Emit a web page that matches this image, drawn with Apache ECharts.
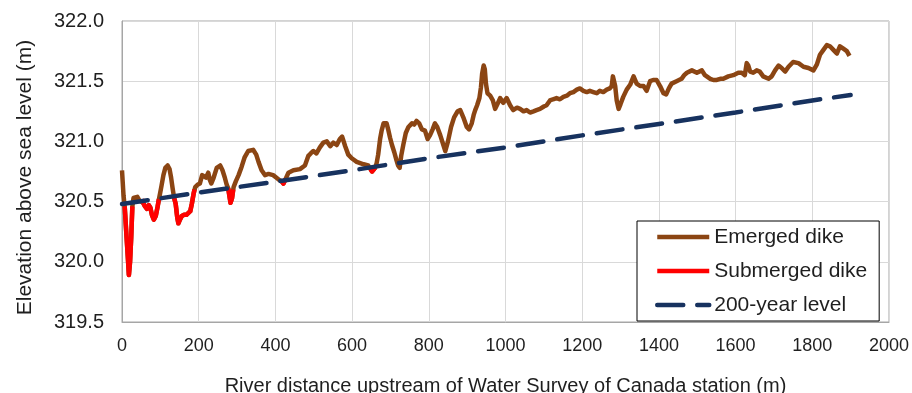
<!DOCTYPE html>
<html>
<head>
<meta charset="utf-8">
<script src="https://cdn.jsdelivr.net/npm/echarts@6/dist/echarts.min.js"></script>
<style>
html,body{margin:0;padding:0;background:#fff;}
#chart{width:912px;height:393px;}
</style>
</head>
<body>
<div id="chart"></div>
<script>
// ---- data ----
var xTicks = [0, 200, 400, 600, 800, 1000, 1200, 1400, 1600, 1800, 2000];
var yTicks = [319.5, 320.0, 320.5, 321.0, 321.5, 322.0];

var profileDistance = [0,4,7,12,15,18,21,24,27,30,35,40,45,50,55,60,65,70,74,78,83,88,93,97,103,108,113,119,124,128,132,136,140,144,147,151,156,162,168,173,178,182,187,191,197,203,209,214,219,225,229,233,238,247,256,262,268,273,277,280,283,287,291,297,304,312,320,329,342,350,356,364,373,382,394,402,410,416,421,427,434,447,464,477,486,492,499,507,516,525,534,543,551,560,568,574,582,590,599,612,621,630,642,648,652,656,660,664,668,673,677,682,686,690,694,699,704,710,716,720,724,728,734,740,747,756,762,768,775,782,790,797,803,810,816,822,830,838,843,850,858,866,875,882,890,899,905,912,917,921,926,932,936,939,943,946,949,953,960,967,973,979,986,994,1003,1012,1020,1030,1038,1047,1055,1064,1073,1081,1090,1100,1107,1116,1124,1133,1142,1151,1160,1168,1177,1186,1194,1203,1212,1220,1229,1238,1246,1255,1264,1272,1277,1280,1283,1286,1290,1295,1300,1307,1316,1325,1334,1342,1351,1360,1368,1377,1385,1394,1403,1412,1419,1426,1433,1446,1459,1466,1473,1486,1499,1512,1520,1534,1542,1551,1560,1568,1581,1594,1607,1616,1624,1629,1633,1638,1646,1655,1663,1672,1686,1694,1703,1712,1720,1729,1738,1750,1764,1777,1790,1803,1812,1820,1829,1838,1846,1855,1864,1872,1881,1890,1897];
var profileElevation = [320.76,320.55,320.46,320.20,320.05,319.89,320.00,320.20,320.46,320.53,320.52,320.54,320.51,320.52,320.49,320.46,320.44,320.47,320.45,320.39,320.35,320.38,320.46,320.53,320.63,320.72,320.78,320.80,320.77,320.70,320.61,320.53,320.48,320.37,320.32,320.35,320.38,320.39,320.39,320.39,320.42,320.48,320.57,320.62,320.64,320.65,320.72,320.73,320.70,320.74,320.68,320.65,320.69,320.78,320.80,320.76,320.70,320.64,320.61,320.55,320.49,320.53,320.62,320.67,320.72,320.79,320.87,320.92,320.93,320.89,320.83,320.76,320.72,320.73,320.72,320.70,320.68,320.67,320.65,320.69,320.74,320.76,320.77,320.80,320.88,320.90,320.92,320.90,320.95,320.99,321.00,320.96,320.99,320.97,321.02,321.04,320.96,320.89,320.86,320.83,320.82,320.81,320.80,320.77,320.75,320.74,320.78,320.82,320.89,321.02,321.09,321.15,321.16,321.15,321.10,321.03,320.97,320.91,320.84,320.80,320.78,320.88,320.98,321.07,321.12,321.15,321.14,321.17,321.15,321.10,321.09,321.02,321.05,321.10,321.15,321.12,321.05,320.97,320.92,321.00,321.12,321.20,321.25,321.26,321.20,321.12,321.10,321.15,321.22,321.26,321.30,321.36,321.45,321.56,321.63,321.60,321.48,321.40,321.38,321.34,321.27,321.31,321.36,321.32,321.36,321.30,321.26,321.28,321.27,321.25,321.26,321.24,321.25,321.26,321.27,321.29,321.30,321.34,321.35,321.36,321.35,321.37,321.38,321.40,321.41,321.43,321.44,321.42,321.41,321.42,321.41,321.40,321.42,321.41,321.43,321.44,321.46,321.54,321.55,321.46,321.34,321.27,321.31,321.37,321.43,321.47,321.54,321.48,321.46,321.46,321.42,321.50,321.51,321.51,321.46,321.40,321.39,321.44,321.48,321.50,321.52,321.55,321.57,321.59,321.57,321.59,321.55,321.52,321.51,321.51,321.52,321.52,321.54,321.55,321.57,321.57,321.55,321.65,321.63,321.58,321.57,321.59,321.58,321.54,321.52,321.54,321.59,321.63,321.61,321.58,321.62,321.66,321.65,321.62,321.61,321.59,321.64,321.72,321.76,321.80,321.79,321.76,321.73,321.79,321.77,321.75,321.71];

// submerged stretches ('-' separates stretches)
var submergedDistance = [7,12,15,18,21,24,27,'-',52,55,60,65,70,74,78,83,88,93,96,'-',136,140,144,147,151,156,162,168,173,178,182,187,189,'-',277,280,283,287,290,'-',416,421,427,'-',648,652,656,660];
var submergedElevation = [320.46,320.20,320.05,319.89,320.00,320.20,320.46,'-',320.52,320.49,320.46,320.44,320.47,320.45,320.39,320.35,320.38,320.46,320.52,'-',320.53,320.48,320.37,320.32,320.35,320.38,320.39,320.39,320.39,320.42,320.48,320.57,320.60,'-',320.61,320.55,320.49,320.53,320.60,'-',320.67,320.65,320.69,'-',320.77,320.75,320.74,320.78];

var levelDistance = [0,200,400,600,800,1000,1200,1400,1600,1800,1900];
var levelElevation = [320.48,320.575,320.665,320.76,320.86,320.95,321.05,321.145,321.24,321.34,321.385];

function zip(a, b) { return a.map(function (v, i) { return [v, b[i]]; }); }

var textColor = '#1f1f1f';
var chart = echarts.init(document.getElementById('chart'));
chart.setOption({
  animation: false,
  backgroundColor: '#fff',
  grid: { left: 122, right: 23, top: 21, bottom: 71, show: true, borderColor: '#a6a6a6', borderWidth: 1,
    containLabel: false, outerBoundsMode: 'none' },
  xAxis: {
    type: 'value', min: xTicks[0], max: xTicks[xTicks.length - 1], interval: 200,
    name: 'River distance upstream of Water Survey of Canada station (m)',
    nameLocation: 'middle', nameGap: 54,
    nameTextStyle: { fontFamily: 'Liberation Sans', fontSize: 20, color: textColor },
    axisLine: { show: true, lineStyle: { color: '#a6a6a6' } },
    axisTick: { show: false },
    axisLabel: { fontFamily: 'Liberation Sans', fontSize: 18, color: textColor, margin: 15,
      formatter: function (v) { return String(v); } },
    splitLine: { show: true, lineStyle: { color: '#d9d9d9', width: 1 } }
  },
  yAxis: {
    type: 'value', min: yTicks[0], max: yTicks[yTicks.length - 1], interval: 0.5,
    name: 'Elevation above sea level (m)',
    nameLocation: 'middle', nameGap: 86,
    nameTextStyle: { fontFamily: 'Liberation Sans', fontSize: 21, color: textColor, padding: [0, 12, 0, 0] },
    axisLine: { show: true, lineStyle: { color: '#a6a6a6' } },
    axisTick: { show: false },
    axisLabel: { fontFamily: 'Liberation Sans', fontSize: 20, color: textColor, margin: 18,
      formatter: function (v) { return v.toFixed(1); } },
    splitLine: { show: true, lineStyle: { color: '#d9d9d9', width: 1 } }
  },
  legend: {
    orient: 'vertical', left: 637, top: 221,
    backgroundColor: '#fff',
    borderColor: '#000', borderWidth: 1,
    padding: [5, 12, 5, 18],
    itemWidth: 52, itemHeight: 14, itemGap: 12,
    itemStyle: { opacity: 0 },
    lineStyle: { width: 4.5 },
    textStyle: { fontFamily: 'Liberation Sans', fontSize: 21, lineHeight: 22, color: textColor },
    data: ['Emerged dike', 'Submerged dike', '200-year level']
  },
  series: [
    {
      name: 'Emerged dike', type: 'line', symbol: 'none',
      data: zip(profileDistance, profileElevation),
      lineStyle: { color: '#8B4513', width: 4.5, join: 'round' },
      itemStyle: { color: '#8B4513' }, z: 2
    },
    {
      name: 'Submerged dike', type: 'line', symbol: 'none', connectNulls: false,
      data: zip(submergedDistance, submergedElevation),
      lineStyle: { color: '#FF0000', width: 4.5, join: 'round' },
      itemStyle: { color: '#FF0000' }, z: 3
    },
    {
      name: '200-year level', type: 'line', symbol: 'none',
      data: zip(levelDistance, levelElevation),
      lineStyle: { color: '#17325F', width: 4.5, type: [26, 14], cap: 'round' },
      itemStyle: { color: '#17325F' }, z: 4
    }
  ]
});
</script>
</body>
</html>
